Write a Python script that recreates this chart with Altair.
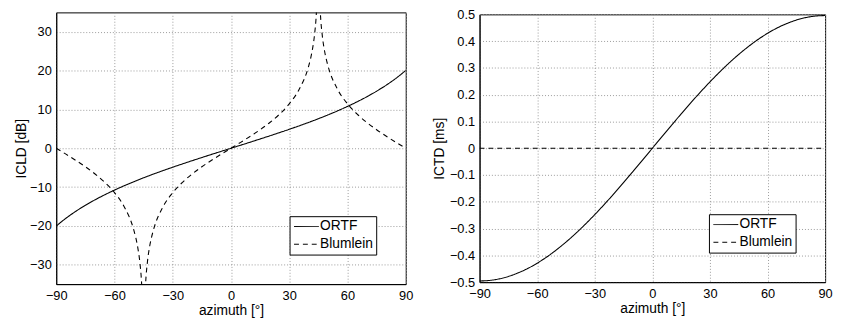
import altair as alt
import pandas as pd

# ---------------- data ----------------
SERIES = ["ORTF", "Blumlein"]

# left panel: ICLD [dB]
az_ortf = [-90, -85, -80, -75, -70, -65, -60, -55, -50, -45, -40, -35, -30, -25, -20, -15, -10, -5,
           0, 5, 10, 15, 20, 25, 30, 35, 40, 45, 50, 55, 60, 65, 70, 75, 80, 85, 90]
icld_ortf = [-20.05, -18.03, -16.27, -14.70, -13.28, -11.98, -10.78, -9.66, -8.61, -7.61, -6.66, -5.76,
             -4.88, -4.03, -3.20, -2.39, -1.58, -0.79, 0.0, 0.79, 1.58, 2.39, 3.20, 4.03, 4.88, 5.76,
             6.66, 7.61, 8.61, 9.66, 10.78, 11.98, 13.28, 14.70, 16.27, 18.03, 20.05]

blum_az_a = [-90, -85, -80, -75, -70, -65, -60, -55, -50, -49, -48, -47, -46, -45.5]
blum_icld_a = [0.0, -1.52, -3.10, -4.77, -6.63, -8.78, -11.44, -15.07, -21.16, -23.11, -25.61, -29.14,
               -35.16, -41.18]
blum_az_b = [-44.5, -44, -43, -42, -41, -40, -35, -30, -25, -20, -15, -10, -5, 0, 5, 10, 15, 20, 25,
             30, 35, 40, 41, 42, 43, 44, 44.5]
blum_icld_b = [-41.18, -35.16, -29.14, -25.61, -23.11, -21.16, -15.07, -11.44, -8.78, -6.63, -4.77,
               -3.10, -1.52, 0.0, 1.52, 3.10, 4.77, 6.63, 8.78, 11.44, 15.07, 21.16, 23.11, 25.61,
               29.14, 35.16, 41.18]
blum_az_c = [45.5, 46, 47, 48, 49, 50, 55, 60, 65, 70, 75, 80, 85, 90]
blum_icld_c = [41.18, 35.16, 29.14, 25.61, 23.11, 21.16, 15.07, 11.44, 8.78, 6.63, 4.77, 3.10, 1.52, 0.0]

# right panel: ICTD [ms]
ictd_ortf = [-0.4956, -0.4937, -0.4881, -0.4787, -0.4657, -0.4492, -0.4292, -0.4060, -0.3796,
             -0.3504, -0.3186, -0.2843, -0.2478, -0.2094, -0.1695, -0.1283, -0.0860, -0.0432, 0.0,
             0.0432, 0.0860, 0.1283, 0.1695, 0.2094, 0.2478, 0.2843, 0.3186, 0.3504, 0.3796, 0.4060,
             0.4292, 0.4492, 0.4657, 0.4787, 0.4881, 0.4937, 0.4956]
blum_az_t = [-90, 0, 90]
ictd_blum = [0.0, 0.0, 0.0]

x_ticks = [-90, -60, -30, 0, 30, 60, 90]
icld_ticks = [-30, -20, -10, 0, 10, 20, 30]
ictd_ticks = [-0.5, -0.4, -0.3, -0.2, -0.1, 0, 0.1, 0.2, 0.3, 0.4, 0.5]

# ---------------- tables ----------------
def rows(az, vals, series, seg):
    return pd.DataFrame({"az": az, "v": vals, "series": series, "seg": seg})

df_left = pd.concat([
    rows(az_ortf, icld_ortf, "ORTF", "o"),
    rows(blum_az_a, blum_icld_a, "Blumlein", "a"),
    rows(blum_az_b, blum_icld_b, "Blumlein", "b"),
    rows(blum_az_c, blum_icld_c, "Blumlein", "c"),
], ignore_index=True)

df_right = pd.concat([
    rows(az_ortf, ictd_ortf, "ORTF", "o"),
    rows(blum_az_t, ictd_blum, "Blumlein", "b"),
], ignore_index=True)

FONT = "Liberation Sans"

def dash_enc():
    return alt.StrokeDash(
        "series:N",
        scale=alt.Scale(domain=SERIES, range=[[1, 0], [5, 4]]),
        legend=alt.Legend(title=None, orient="bottom-right", offset=30),
    )

def x_enc():
    return alt.X("az:Q", scale=alt.Scale(domain=[-90, 90], nice=False),
                 axis=alt.Axis(values=x_ticks, title="azimuth [°]", labelPadding=6,
                               titlePadding=1, format="d"))

left = alt.Chart(df_left).mark_line(clip=True, color="black", strokeWidth=1.1,
                                    interpolate="monotone").encode(
    x=x_enc(),
    y=alt.Y("v:Q", scale=alt.Scale(domain=[-35, 35], nice=False),
            axis=alt.Axis(values=icld_ticks, title="ICLD [dB]", format="d",
                          minExtent=27, maxExtent=27, titlePadding=1)),
    strokeDash=dash_enc(),
    detail="seg:N",
).properties(width=355, height=276)

right = alt.Chart(df_right).mark_line(clip=True, color="black", strokeWidth=1.1,
                                      interpolate="monotone").encode(
    x=x_enc(),
    y=alt.Y("v:Q", scale=alt.Scale(domain=[-0.5, 0.5], nice=False),
            axis=alt.Axis(values=ictd_ticks, title="ICTD [ms]", format=".1~f",
                          minExtent=31, maxExtent=31, titlePadding=3)),
    strokeDash=dash_enc(),
    detail="seg:N",
).properties(width=351, height=272)

# tiny invisible spacer that lets the right panel sit a few pixels lower
spacer = alt.Chart(pd.DataFrame({"s": [0]})).mark_point(opacity=0, size=1).encode(
    x=alt.value(0), y=alt.value(0)
).properties(width=1, height=1, view=alt.ViewBackground(strokeOpacity=0, strokeWidth=0))

right_box = alt.vconcat(spacer, right, spacing=-6).resolve_scale(
    strokeDash="independent"
).resolve_legend(strokeDash="independent")

chart = alt.hconcat(left, right_box, spacing=18).resolve_scale(
    strokeDash="independent"
).resolve_legend(
    strokeDash="independent"
).properties(
    padding={"left": 6, "top": -3, "right": 0, "bottom": 0}
).configure_view(
    stroke="black", strokeWidth=1
).configure_axis(
    labelFont=FONT, labelFontSize=13, labelColor="black",
    titleFont=FONT, titleFontSize=14, titleFontWeight="normal", titleColor="black",
    grid=True, gridColor="#9a9a9a", gridDash=[1, 2], gridWidth=1,
    domainColor="black", domainWidth=1, tickSize=0, labelPadding=5,
    labelFlush=False, labelOverlap=False,
).configure_legend(
    strokeColor="black", fillColor="white", padding=3, cornerRadius=0,
    symbolType="M-0.85,0H2.75", symbolSize=196, symbolStrokeWidth=1, symbolStrokeColor="black",
    labelFont=FONT, labelFontSize=14, labelColor="black", labelOffset=13, rowPadding=3,
)

chart.save("out.html", embed_options={"renderer": "svg", "actions": False})
